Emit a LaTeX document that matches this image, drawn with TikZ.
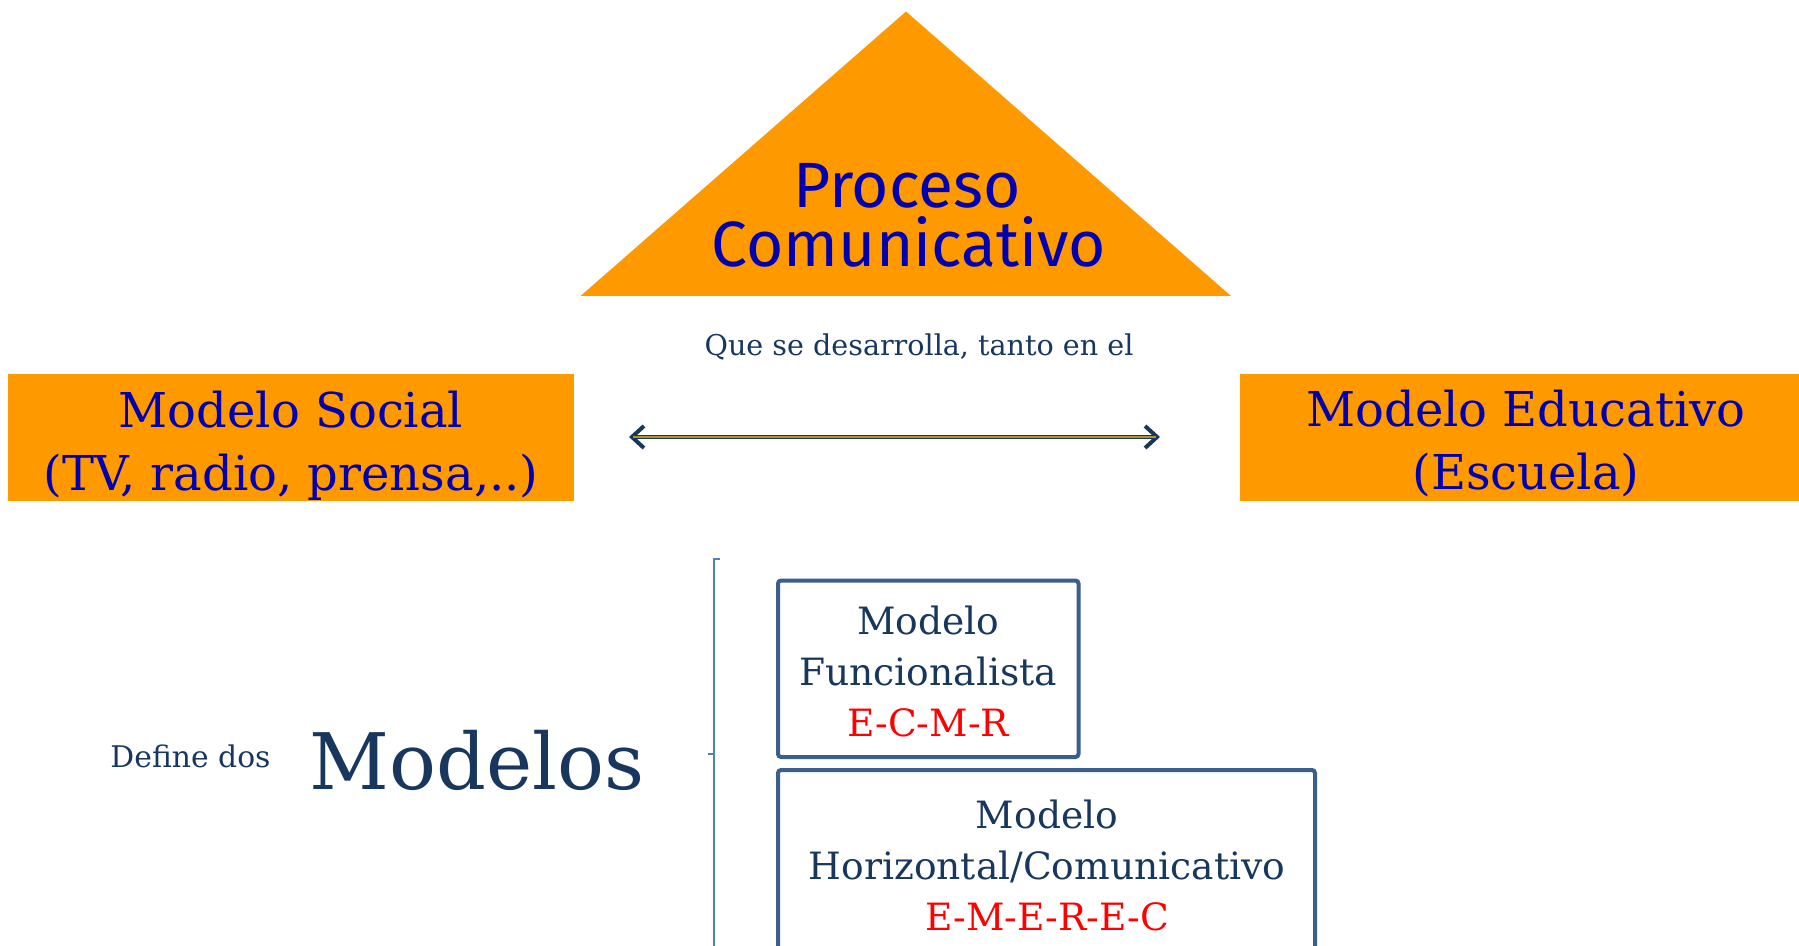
\documentclass[tikz,border=0pt]{standalone}
\usepackage{fontspec}
\setmainfont{DejaVu Serif}
\newfontfamily\comicf{Fira Sans}
\usetikzlibrary{arrows.meta}
\definecolor{orng}{HTML}{FF9900}
\definecolor{bluet}{HTML}{0000B0}
\definecolor{navy}{HTML}{17375E}
\definecolor{bxborder}{HTML}{3B5E8C}
\definecolor{brk}{HTML}{4F81BD}
\definecolor{redt}{HTML}{FF0000}
\definecolor{goldl}{HTML}{B8902A}
\tikzset{
  orangebox/.style={fill=orng, inner sep=0pt},
  orangetext/.style={inner sep=0pt, align=center, text=bluet,
    font=\fontsize{24}{31.5}\selectfont},
  modelbox/.style={draw=bxborder, line width=2pt, rounded corners=1.5pt, inner sep=0pt},
  modeltext/.style={inner sep=0pt, align=center, text=navy, font=\fontsize{18.8}{25.5}\selectfont},
  navytext/.style={text=navy, inner sep=0pt},
  comictext/.style={text=bluet, inner sep=0pt, font=\comicf\fontsize{32}{38}\selectfont},
}
\begin{document}
\begin{tikzpicture}[x=0.5pt,y=-0.5pt]
\useasboundingbox (0,0) rectangle (1799,946);
\clip (0,0) rectangle (1799,946);
% triangle
\fill[orng] (580.5,296) -- (906,11.5) -- (1231,296) -- cycle;
\node[comictext, anchor=base] (proc1) at (907,208) {Proceso};
\node[comictext, anchor=base] (proc2) at (909,267) {Comunicativo};
% subtitle
\node[navytext, font=\fontsize{14.3}{17}\selectfont] (que) at (919,346.5) {Que se desarrolla, tanto en el};
% orange boxes
\node[orangebox, minimum width=283pt, minimum height=63.5pt] (soc) at (291,437.5) {};
\node[orangetext] (socT) at (291,445.5) {Modelo Social\\(TV, radio, prensa,..)};
\node[orangebox, minimum width=279.5pt, minimum height=63.5pt] (edu) at (1519.5,437.5) {};
\node[orangetext] (eduT) at (1526,443.5) {Modelo Educativo\\(Escuela)};
% double arrow
\coordinate (arrL) at (629,437);
\coordinate (arrR) at (1160,437);
\draw[navy, line width=2.2pt, {Straight Barb[length=6pt,width=11pt,line width=2pt]}-{Straight Barb[length=6pt,width=11pt,line width=2pt]}] (arrL) -- (arrR);
\draw[goldl, line width=0.7pt, shorten <=2pt, shorten >=2pt] (arrL) -- (arrR);
% left texts
\node[navytext, font=\fontsize{14.9}{17}\selectfont] (def) at (190.5,756) {Define dos};
\node[navytext, font=\fontsize{39}{46}\selectfont] (mods) at (477,760) {Modelos};
% bracket
\coordinate (bt) at (714,559);
\coordinate (bb) at (714,950);
\coordinate (bm) at (714,754);
\draw[brk, line width=1pt] ([xshift=3pt]bt) -- (bt) -- (bb);
\draw[brk, line width=1pt] (bm) -- ++(-6,0);
% model boxes
\node[modelbox, minimum width=150.25pt, minimum height=88.25pt] (fun) at (928.25,668.75) {};
\node[modeltext] (funT) at (928.25,671.5) {Modelo\\Funcionalista\\\textcolor{redt}{E-C-M-R}};
\node[modelbox, minimum width=268.5pt, minimum height=94pt] (hor) at (1046.5,864) {};
\node[modeltext] (horT) at (1047,865) {Modelo\\Horizontal/Comunicativo\\\textcolor{redt}{E-M-E-R-E-C}};
\end{tikzpicture}
\end{document}
